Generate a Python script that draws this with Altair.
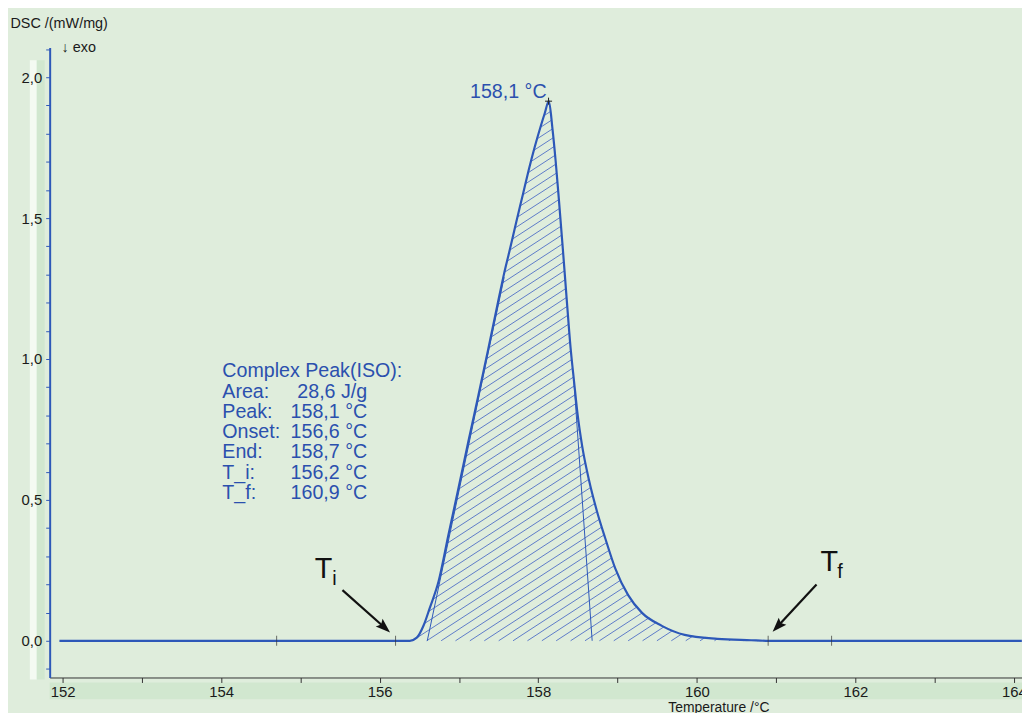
import math
import numpy as np
import pandas as pd
import altair as alt

# ---------------- data ----------------
curve_T = [151.96, 156.380, 156.468, 156.556, 156.631, 156.743, 156.868, 156.994, 157.119,
           157.244, 157.369, 157.494, 157.569, 157.632, 157.719, 157.807, 157.882, 157.957,
           158.032, 158.083, 158.133, 158.179, 158.220, 158.262, 158.310, 158.358, 158.408,
           158.452, 158.495, 158.554, 158.637, 158.742, 158.846, 158.971, 159.134, 159.309,
           159.559, 159.847, 160.260, 160.685, 160.873, 164.10]
curve_dsc = [0.0, 0.0, 0.011, 0.056, 0.116, 0.211, 0.377, 0.542, 0.708,
             0.870, 1.035, 1.204, 1.303, 1.377, 1.482, 1.585, 1.673, 1.754,
             1.827, 1.873, 1.915, 1.818, 1.701, 1.560, 1.391, 1.215, 1.039,
             0.919, 0.806, 0.691, 0.574, 0.458, 0.363, 0.257, 0.162, 0.099,
             0.053, 0.021, 0.007, 0.002, 0.0, 0.0]

peak_T = [158.13]
peak_dsc = [1.915]
peak_label = ["158,1 °C"]

left_tangent_T = [156.60, 157.57]
left_tangent_dsc = [0.0, 1.29]
right_tangent_T = [158.68, 158.45]
right_tangent_dsc = [0.0, 0.92]

marker_T = [154.7, 156.2, 160.9, 161.7]
marker_dsc = [0.0, 0.0, 0.0, 0.0]

info_labels = ["Complex Peak(ISO):", "Area:", "Peak:", "Onset:", "End:", "T_i:", "T_f:"]
info_values = ["28,6 J/g", "158,1 °C", "156,6 °C", "158,7 °C", "156,2 °C", "160,9 °C"]

arrow_tail_T = [155.53, 161.51]
arrow_tail_dsc = [0.180, 0.200]
arrow_head_T = [156.05, 161.03]
arrow_head_dsc = [0.050, 0.054]

tlabel_T = [155.18, 161.56]
tlabel_dsc = [0.222, 0.246]
tsub_T = [155.40, 161.77]
tsub_dsc = [0.197, 0.222]
tsub_text = ["i", "f"]

x_ticks = list(range(152, 165))
y_ticks = [round(-0.1 + 0.1 * i, 1) for i in range(23)]

# ---------------- layout / styles ----------------
W, H = 980, 635
XMIN, XMAX = 151.837, 164.102
YMIN, YMAX = -0.1303, 2.1056
BG = "#dfeddc"
BLUE = "#2d58b8"
TEXTBLUE = "#2b50ae"
HATCH = "#4f6ec6"
FONT = "Liberation Sans"

xscale = alt.Scale(domain=[XMIN, XMAX], nice=False, zero=False)
yscale = alt.Scale(domain=[YMIN, YMAX], nice=False, zero=False)

xaxis = alt.Axis(values=x_ticks,
                 labelExpr="datum.value % 2 == 0 ? format(datum.value, 'd') : ''",
                 title="Temperature /°C", titleX=674, titleY=34, titleAlign="center",
                 titleBaseline="alphabetic", titleFontWeight="normal", titleFontSize=14,
                 tickSize=5, labelPadding=2, domainColor="#333333", tickColor="#333333",
                 grid=False, zindex=1, labelOverlap=False, labelFlush=False)
yaxis = alt.Axis(values=y_ticks,
                 labelExpr="abs(datum.value*2 - round(datum.value*2)) < 0.001 ? replace(format(datum.value, '.1f'), '.', ',') : ''",
                 title="DSC /(mW/mg)", titleAngle=0, titleX=-40, titleY=-24,
                 titleAlign="left", titleBaseline="middle", titleFontWeight="normal",
                 titleFontSize=14.5, tickSize=4, labelPadding=4, domainColor=BLUE,
                 domainWidth=2, tickColor=BLUE, grid=False, zindex=1, labelOverlap=False)


def X(field):
    return alt.X(field, type="quantitative", scale=xscale, axis=xaxis)


def Y(field):
    return alt.Y(field, type="quantitative", scale=yscale, axis=yaxis)


curve = pd.DataFrame({"T": curve_T, "DSC": curve_dsc})

# hatch segments derived from the curve (diagonal lines clipped to the peak area)
pxT = W / (XMAX - XMIN)
pxY = H / (YMAX - YMIN)
k = 0.65 * pxT / pxY
step = 14.5 / pxT
xs = np.linspace(156.38, 160.90, 5000)
fs = np.interp(xs, curve_T, curve_dsc)
segs = []
for j in range(-60, 30):
    t0 = 156.593 + j * step
    g = k * (xs - t0)
    idx = np.where((g >= 0) & (g <= fs))[0]
    if len(idx) < 2:
        continue
    runs = np.split(idx, np.where(np.diff(idx) > 1)[0] + 1)
    for r in runs:
        if len(r) < 2:
            continue
        a, b = xs[r[0]], xs[r[-1]]
        segs.append({"T": a, "DSC": k * (a - t0), "T2": b, "DSC2": k * (b - t0)})
hatch = pd.DataFrame(segs)

one = pd.DataFrame({"a": [0]})

bands = [
    alt.Chart(one).mark_rect(color="#f4faf2").encode(
        x=alt.value(-20), x2=alt.value(-13), y=alt.value(13), y2=alt.value(637)),
    alt.Chart(one).mark_rect(color="#d1e7cf").encode(
        x=alt.value(-13), x2=alt.value(-5), y=alt.value(13), y2=alt.value(637)),
    alt.Chart(one).mark_rect(color="#d1e7cf").encode(
        x=alt.value(0), x2=alt.value(W), y=alt.value(640), y2=alt.value(657)),
]

hatch_layer = alt.Chart(hatch).mark_rule(color=HATCH, strokeWidth=0.9).encode(
    x=X("T"), y=Y("DSC"), x2="T2", y2="DSC2")

tang = pd.concat([
    pd.DataFrame({"T": left_tangent_T, "DSC": left_tangent_dsc, "g": "l"}),
    pd.DataFrame({"T": right_tangent_T, "DSC": right_tangent_dsc, "g": "r"}),
])
tang_layer = alt.Chart(tang).mark_line(color=BLUE, strokeWidth=1).encode(
    x=X("T"), y=Y("DSC"), detail="g:N")

curve_layer = alt.Chart(curve).mark_line(color=BLUE, strokeWidth=2.2, clip=True,
                                         interpolate="monotone").encode(
    x=X("T"), y=Y("DSC"), order="T:Q")

markers = pd.DataFrame({"T": marker_T, "DSC": marker_dsc})
marker_layer = alt.Chart(markers).mark_tick(color="#333333", size=10, thickness=1,
                                            orient="vertical").encode(x=X("T"), y=Y("DSC"))

peak = pd.DataFrame({"T": peak_T, "DSC": peak_dsc, "lab": peak_label})
peak_cross = alt.Chart(peak).mark_point(shape="M-1,0L1,0M0,-1L0,1", size=50, filled=False,
                                        color="#222222", strokeWidth=1, opacity=1).encode(
    x=X("T"), y=Y("DSC"))
peak_text = alt.Chart(peak).mark_text(font=FONT, fontSize=19.8, color=TEXTBLUE, align="right",
                                      baseline="alphabetic", dx=-2, dy=-3).encode(
    x=X("T"), y=Y("DSC"), text="lab:N")

info_l = pd.DataFrame({"t": ["\n".join(info_labels)]})
info_v = pd.DataFrame({"t": ["\n".join(info_values)]})
info_left = alt.Chart(info_l).mark_text(font=FONT, fontSize=19.8, color=TEXTBLUE, align="left",
                                        baseline="alphabetic", lineBreak="\n",
                                        lineHeight=20.4).encode(
    x=alt.value(174), y=alt.value(332.5), text="t:N")
info_right = alt.Chart(info_v).mark_text(font=FONT, fontSize=19.8, color=TEXTBLUE, align="right",
                                         baseline="alphabetic", lineBreak="\n",
                                         lineHeight=20.4).encode(
    x=alt.value(320), y=alt.value(352.9), text="t:N")

exo_text = alt.Chart(one).mark_text(font=FONT, fontSize=14.5, color="#1a1a1a", align="left",
                                    baseline="middle", text="↓ exo").encode(
    x=alt.value(12), y=alt.value(1))

arrows = pd.concat([
    pd.DataFrame({"T": [arrow_tail_T[i], arrow_head_T[i]],
                  "DSC": [arrow_tail_dsc[i], arrow_head_dsc[i]], "g": str(i)})
    for i in range(2)
])
arrow_lines = alt.Chart(arrows).mark_line(color="#111111", strokeWidth=2.2).encode(
    x=X("T"), y=Y("DSC"), detail="g:N")

angles = []
for i in range(2):
    dx = (arrow_head_T[i] - arrow_tail_T[i]) * pxT
    dy = -(arrow_head_dsc[i] - arrow_tail_dsc[i]) * pxY
    angles.append(math.degrees(math.atan2(dx, -dy)) % 360)
heads = pd.DataFrame({"T": arrow_head_T, "DSC": arrow_head_dsc, "ang": angles})
arrow_heads = alt.Chart(heads).mark_point(shape="M0,-1L0.6,0.7L0,0.4L-0.6,0.7Z",
                                          size=300, filled=True, color="#111111",
                                          opacity=1).encode(
    x=X("T"), y=Y("DSC"), angle=alt.Angle("ang:Q", scale=None))

tl = pd.DataFrame({"T": tlabel_T, "DSC": tlabel_dsc, "t": ["T", "T"]})
tlabels = alt.Chart(tl).mark_text(font=FONT, fontSize=29, color="#111111", align="left",
                                  baseline="alphabetic").encode(
    x=X("T"), y=Y("DSC"), text="t:N")
ts = pd.DataFrame({"T": tsub_T, "DSC": tsub_dsc, "t": tsub_text})
tsubs = alt.Chart(ts).mark_text(font=FONT, fontSize=20, color="#111111", align="left",
                                baseline="alphabetic").encode(
    x=X("T"), y=Y("DSC"), text="t:N")

chart = alt.layer(
    *bands, hatch_layer, tang_layer, curve_layer, marker_layer, peak_cross, peak_text,
    info_left, info_right, exo_text, arrow_lines, arrow_heads, tlabels, tsubs
).properties(
    width=W, height=H,
    autosize=alt.AutoSizeParams(type="none"),
    padding={"left": 42, "top": 37, "right": 0, "bottom": 33},
    background=BG,
).configure_view(strokeWidth=0).configure_axis(
    labelFont=FONT, titleFont=FONT, labelFontSize=15, labelColor="#1a1a1a",
    titleColor="#1a1a1a"
)

chart.save("out.html", embed_options={"renderer": "svg", "actions": False})
